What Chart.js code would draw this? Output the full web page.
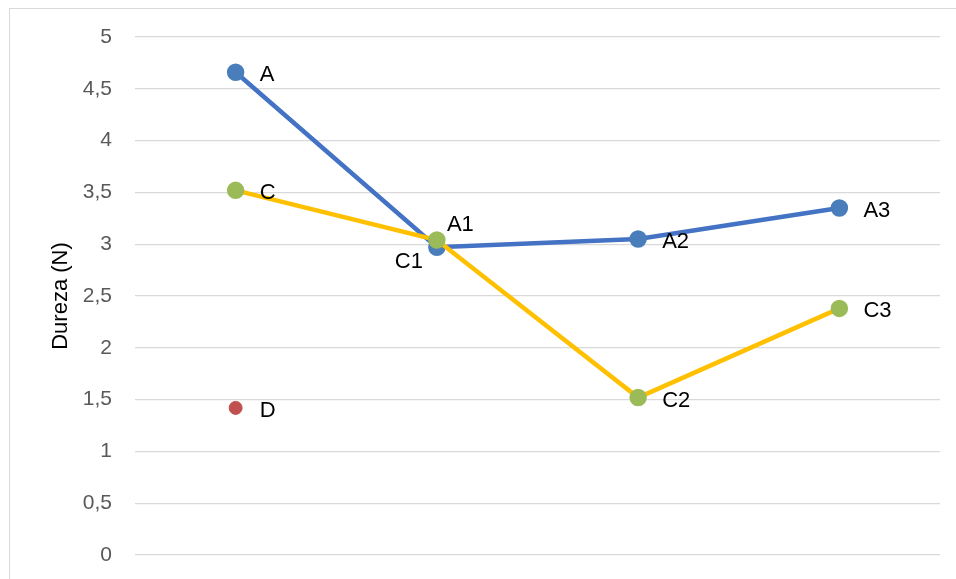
<!DOCTYPE html>
<html>
<head>
<meta charset="utf-8">
<script src="https://cdn.jsdelivr.net/npm/chart.js@4.4.1/dist/chart.umd.min.js"></script>
<style>
  html, body { margin: 0; padding: 0; background: #fff; overflow: hidden; }
  #wrap { position: relative; width: 956px; height: 579px; }
  #frame { position: absolute; left: 9px; top: 8px; width: 960px; height: 600px; border: 1px solid #d9d9d9; box-sizing: border-box; }
  #chart { position: absolute; left: 0; top: 0; }
</style>
</head>
<body>
<div id="wrap">
  <div id="frame"></div>
  <canvas id="chart" width="956" height="579"></canvas>
</div>
<script>
// categorias (sem rótulos visíveis no eixo x)
const categories = ['1', '2', '3', '4'];

// séries
const serieA = [4.66, 2.97, 3.05, 3.35];
const serieC = [3.52, 3.04, 1.52, 2.38];
const serieD = [1.42, null, null, null];

// rótulos dos pontos
const labelsA = ['A', 'A1', 'A2', 'A3'];
const labelsC = ['C', 'C1', 'C2', 'C3'];
const labelsD = ['D', '', '', ''];

// ticks do eixo y
const yTicks = [0, 0.5, 1, 1.5, 2, 2.5, 3, 3.5, 4, 4.5, 5];

const FONT = '"Liberation Sans", Arial, sans-serif';

// posição de cada rótulo em relação ao ponto
const placeA = ['right', 'above', 'right', 'right'];
const placeC = ['right', 'below', 'right', 'right'];
const placeD = ['right', 'right', 'right', 'right'];

const placements = {
  right: { dx: 24, dy: 3, align: 'left' },
  above: { dx: 10, dy: -22, align: 'left' },
  below: { dx: -14, dy: 22, align: 'right' }
};

// desenha os rótulos ao lado dos pontos
const pointLabels = {
  id: 'pointLabels',
  afterDatasetsDraw(chart) {
    const ctx = chart.ctx;
    ctx.save();
    ctx.font = '22px ' + FONT;
    ctx.fillStyle = '#000';
    ctx.textBaseline = 'middle';
    chart.data.datasets.forEach((ds, i) => {
      const meta = chart.getDatasetMeta(i);
      meta.data.forEach((pt, j) => {
        const txt = ds.pointText[j];
        if (!txt || ds.data[j] == null) return;
        const p = placements[ds.pointPlace[j]];
        ctx.textAlign = p.align;
        ctx.fillText(txt, pt.x + p.dx, pt.y + p.dy);
      });
    });
    ctx.restore();
  }
};

new Chart(document.getElementById('chart'), {
  type: 'line',
  data: {
    labels: categories,
    datasets: [
      {
        data: serieC,
        pointText: labelsC,
        pointPlace: placeC,
        borderColor: '#FFC000',
        borderWidth: 4.5,
        pointBackgroundColor: '#9BBB59',
        pointBorderColor: '#9BBB59',
        pointRadius: 6.5,
        tension: 0
      },
      {
        data: serieA,
        pointText: labelsA,
        pointPlace: placeA,
        borderColor: '#4472C4',
        borderWidth: 4.5,
        pointBackgroundColor: '#4A7EBB',
        pointBorderColor: '#4A7EBB',
        pointRadius: 6.5,
        tension: 0
      },
      {
        data: serieD,
        pointText: labelsD,
        pointPlace: placeD,
        showLine: false,
        borderColor: '#C0504D',
        pointBackgroundColor: '#C0504D',
        pointBorderColor: '#C0504D',
        pointRadius: 6.5
      }
    ]
  },
  options: {
    responsive: false,
    animation: false,
    layout: { padding: { left: 0, top: 37, right: 16, bottom: 24 } },
    plugins: {
      legend: { display: false },
      tooltip: { enabled: false }
    },
    scales: {
      x: {
        display: false,
        offset: true
      },
      y: {
        min: 0,
        max: 5,
        afterBuildTicks(scale) {
          scale.ticks = yTicks.map(v => ({ value: v }));
        },
        afterFit(scale) {
          scale.width = 135;
          scale.paddingTop = 0;
          scale.paddingBottom = 0;
        },
        border: { display: false },
        grid: { color: '#d9d9d9', lineWidth: 1.3, drawTicks: false },
        ticks: {
          color: '#595959',
          padding: 23,
          font: { family: FONT, size: 21 },
          callback: v => String(v).replace('.', ',')
        },
        title: {
          display: true,
          text: 'Dureza (N)',
          color: '#000',
          font: { family: FONT, size: 22 },
          padding: { top: 48, bottom: 0 }
        }
      }
    }
  },
  plugins: [pointLabels]
});
</script>
</body>
</html>
